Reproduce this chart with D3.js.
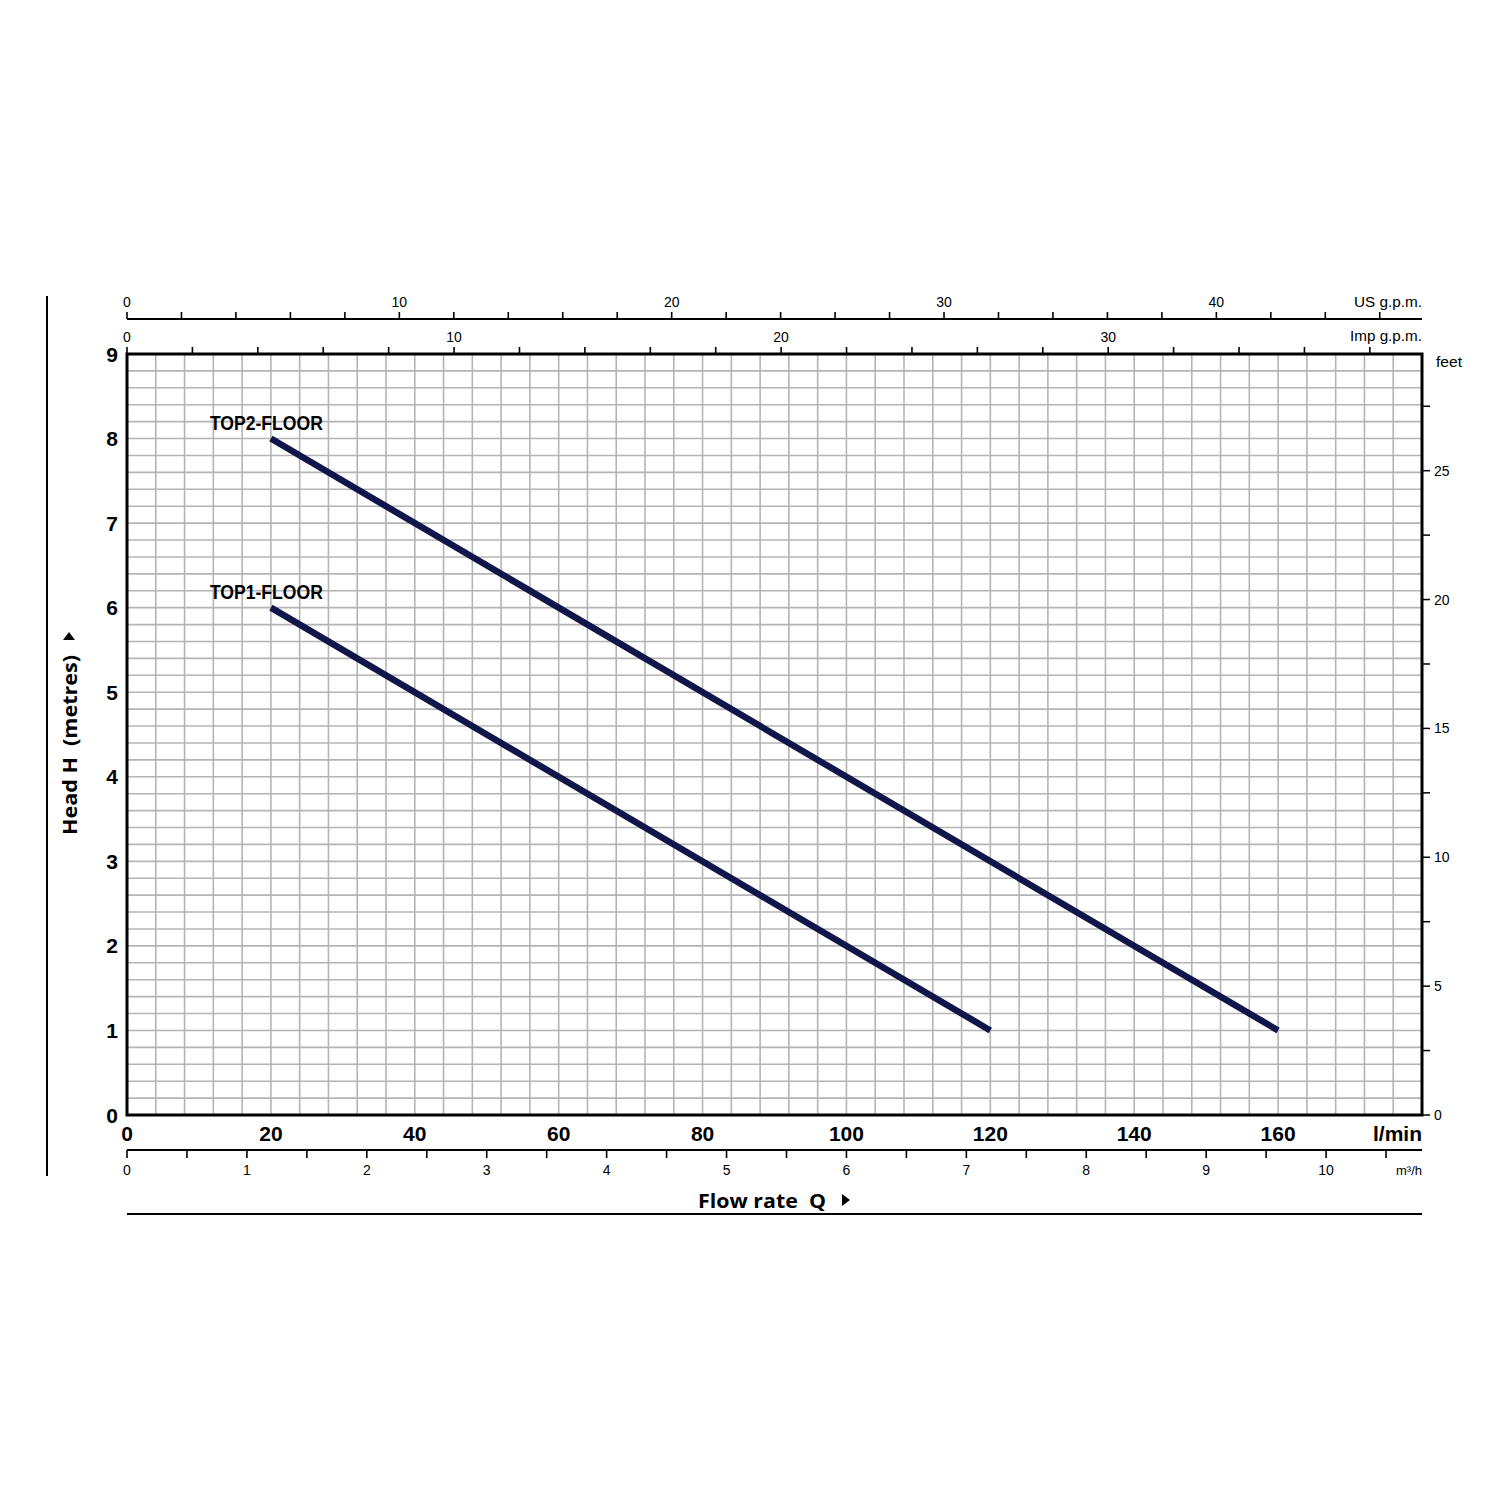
<!DOCTYPE html>
<html><head><meta charset="utf-8">
<script src="https://cdn.jsdelivr.net/npm/d3@7"></script>
<style>body{margin:0;background:#fff}</style>
</head><body>
<svg id="c" width="1500" height="1500"></svg>
<script>
// Data
const seriesNames = ["TOP2-FLOOR", "TOP1-FLOOR"];
const top2Flow = [20, 160];   // l/min
const top2Head = [8, 1];      // m
const top1Flow = [20, 120];
const top1Head = [6, 1];
const lminTicks = [0, 20, 40, 60, 80, 100, 120, 140, 160];
const headTicks = [0, 1, 2, 3, 4, 5, 6, 7, 8, 9];
const feetLabels = [0, 5, 10, 15, 20, 25];
const m3hLabels = [0, 1, 2, 3, 4, 5, 6, 7, 8, 9, 10];
const usLabels = [0, 10, 20, 30, 40];
const impLabels = [0, 10, 20, 30];

const svg = d3.select("#c");
const L = 127, R = 1422, T = 354, B = 1115;
const x = d3.scaleLinear().domain([0, 180]).range([L, R]);
const y = d3.scaleLinear().domain([0, 9]).range([B, T]);
const fontT = "'Liberation Sans', Arial, sans-serif";
const fontO = "'Open Sans', sans-serif";

// grid
const g = svg.append("g");
g.selectAll("line.v").data(d3.range(4, 180, 4)).join("line")
  .attr("x1", d => x(d)).attr("x2", d => x(d)).attr("y1", T).attr("y2", B)
  .attr("stroke", "#b4b4b4").attr("stroke-width", 1.6);
g.selectAll("line.h").data(d3.range(1, 45).map(i => i * 0.2)).join("line")
  .attr("y1", d => y(d)).attr("y2", d => y(d)).attr("x1", L).attr("x2", R)
  .attr("stroke", "#b4b4b4").attr("stroke-width", 1.6);

// frame
svg.append("rect").attr("x", L).attr("y", T).attr("width", R - L).attr("height", B - T)
  .attr("fill", "none").attr("stroke", "#000").attr("stroke-width", 3);

// curves
const line = d3.line().x(d => x(d[0])).y(d => y(d[1]));
const curves = [
  {name: seriesNames[0], pts: top2Flow.map((f, i) => [f, top2Head[i]])},
  {name: seriesNames[1], pts: top1Flow.map((f, i) => [f, top1Head[i]])}
];
svg.selectAll("path.curve").data(curves).join("path")
  .attr("d", d => line(d.pts)).attr("fill", "none")
  .attr("stroke", "#10154a").attr("stroke-width", 6.5).attr("stroke-linecap", "butt");
svg.selectAll("text.cl").data(curves).join("text")
  .attr("x", d => x(d.pts[0][0]) - 61).attr("y", d => y(d.pts[0][1]) - 9)
  .attr("font-family", fontT).attr("font-weight", "bold").attr("font-size", 20)
  .attr("textLength", 113).attr("lengthAdjust", "spacingAndGlyphs")
  .text(d => d.name);

// left y axis labels
svg.selectAll("text.yl").data(headTicks).join("text")
  .attr("x", 118).attr("y", d => y(d)).attr("dy", "0.36em").attr("text-anchor", "end")
  .attr("font-family", fontT).attr("font-weight", "bold").attr("font-size", 21).text(d => d);

// right feet axis
const ft = d3.scaleLinear().domain([0, 9 / 0.3048]).range([B, T]);
svg.selectAll("line.ft").data(d3.range(0, 29, 2.5)).join("line")
  .attr("x1", R).attr("x2", R + 8).attr("y1", d => ft(d)).attr("y2", d => ft(d))
  .attr("stroke", "#000").attr("stroke-width", 1.5);
svg.selectAll("text.ftl").data(feetLabels).join("text")
  .attr("x", 1434).attr("y", d => ft(d)).attr("dy", "0.36em")
  .attr("font-family", fontT).attr("font-size", 14).text(d => d);
svg.append("text").attr("x", 1436).attr("y", 367).attr("font-family", fontT).attr("font-size", 14)
  .attr("textLength", 26).attr("lengthAdjust", "spacingAndGlyphs").text("feet");

// bottom l/min labels
svg.selectAll("text.xl").data(lminTicks).join("text")
  .attr("x", d => x(d)).attr("y", 1141).attr("text-anchor", "middle")
  .attr("font-family", fontT).attr("font-weight", "bold").attr("font-size", 21).text(d => d);
svg.append("text").attr("x", R).attr("y", 1141).attr("text-anchor", "end")
  .attr("font-family", fontT).attr("font-weight", "bold").attr("font-size", 21).text("l/min");

// m3/h axis
const m3 = d3.scaleLinear().domain([0, 10.8]).range([L, R]);
svg.append("line").attr("x1", L).attr("x2", R).attr("y1", 1150).attr("y2", 1150)
  .attr("stroke", "#000").attr("stroke-width", 2);
svg.selectAll("line.m3").data(d3.range(0, 10.8, 0.5)).join("line")
  .attr("x1", d => m3(d)).attr("x2", d => m3(d)).attr("y1", 1150).attr("y2", 1158)
  .attr("stroke", "#000").attr("stroke-width", 1.6);
svg.selectAll("text.m3l").data(m3hLabels).join("text")
  .attr("x", d => m3(d)).attr("y", 1175).attr("text-anchor", "middle")
  .attr("font-family", fontT).attr("font-size", 14).text(d => d);
svg.append("text").attr("x", R).attr("y", 1175).attr("text-anchor", "end")
  .attr("font-family", fontT).attr("font-size", 13).text("m³/h");

// US gpm axis
const us = d3.scaleLinear().domain([0, 180 / 3.78541]).range([L, R]);
svg.append("line").attr("x1", L).attr("x2", R).attr("y1", 319).attr("y2", 319)
  .attr("stroke", "#000").attr("stroke-width", 2);
svg.selectAll("line.us").data(d3.range(0, 47, 2)).join("line")
  .attr("x1", d => us(d)).attr("x2", d => us(d)).attr("y1", 319).attr("y2", 312)
  .attr("stroke", "#000").attr("stroke-width", 1.6);
svg.selectAll("text.usl").data(usLabels).join("text")
  .attr("x", d => us(d)).attr("y", 307).attr("text-anchor", "middle")
  .attr("font-family", fontT).attr("font-size", 14).text(d => d);
svg.append("text").attr("x", R).attr("y", 307).attr("text-anchor", "end")
  .attr("font-family", fontT).attr("font-size", 14).attr("textLength", 68)
  .attr("lengthAdjust", "spacingAndGlyphs").text("US g.p.m.");

// Imp gpm axis (ticks on top of frame)
const imp = d3.scaleLinear().domain([0, 180 / 4.54609]).range([L, R]);
svg.selectAll("line.imp").data(d3.range(0, 39.6, 2)).join("line")
  .attr("x1", d => imp(d)).attr("x2", d => imp(d)).attr("y1", T).attr("y2", T - 7)
  .attr("stroke", "#000").attr("stroke-width", 1.6);
svg.selectAll("text.impl").data(impLabels).join("text")
  .attr("x", d => imp(d)).attr("y", 342).attr("text-anchor", "middle")
  .attr("font-family", fontT).attr("font-size", 14).text(d => d);
svg.append("text").attr("x", R).attr("y", 341).attr("text-anchor", "end")
  .attr("font-family", fontT).attr("font-size", 14).attr("textLength", 72)
  .attr("lengthAdjust", "spacingAndGlyphs").text("Imp g.p.m.");

// left border line and bottom line
svg.append("line").attr("x1", 47).attr("x2", 47).attr("y1", 296).attr("y2", 1176)
  .attr("stroke", "#000").attr("stroke-width", 2);
svg.append("line").attr("x1", L).attr("x2", R).attr("y1", 1214).attr("y2", 1214)
  .attr("stroke", "#000").attr("stroke-width", 2);

// axis titles
svg.append("text").attr("x", 698).attr("y", 1208)
  .attr("font-family", fontO).attr("font-weight", "bold").attr("font-size", 20)
  .attr("textLength", 128).attr("lengthAdjust", "spacingAndGlyphs")
  .text("Flow rate\u00a0\u00a0Q");
svg.append("path").attr("d", "M842,1194 L850,1200 L842,1206 Z").attr("fill", "#000");

const ht = svg.append("g").attr("transform", "translate(77,835) rotate(-90)");
ht.append("text").attr("x", 0).attr("y", 0)
  .attr("font-family", fontO).attr("font-weight", "bold").attr("font-size", 20)
  .attr("textLength", 180).attr("lengthAdjust", "spacingAndGlyphs")
  .text("Head H\u00a0\u00a0(metres)");
ht.append("path").attr("d", "M195,-14 L203,-8 L195,-2 Z").attr("fill", "#000");
</script>
</body></html>
